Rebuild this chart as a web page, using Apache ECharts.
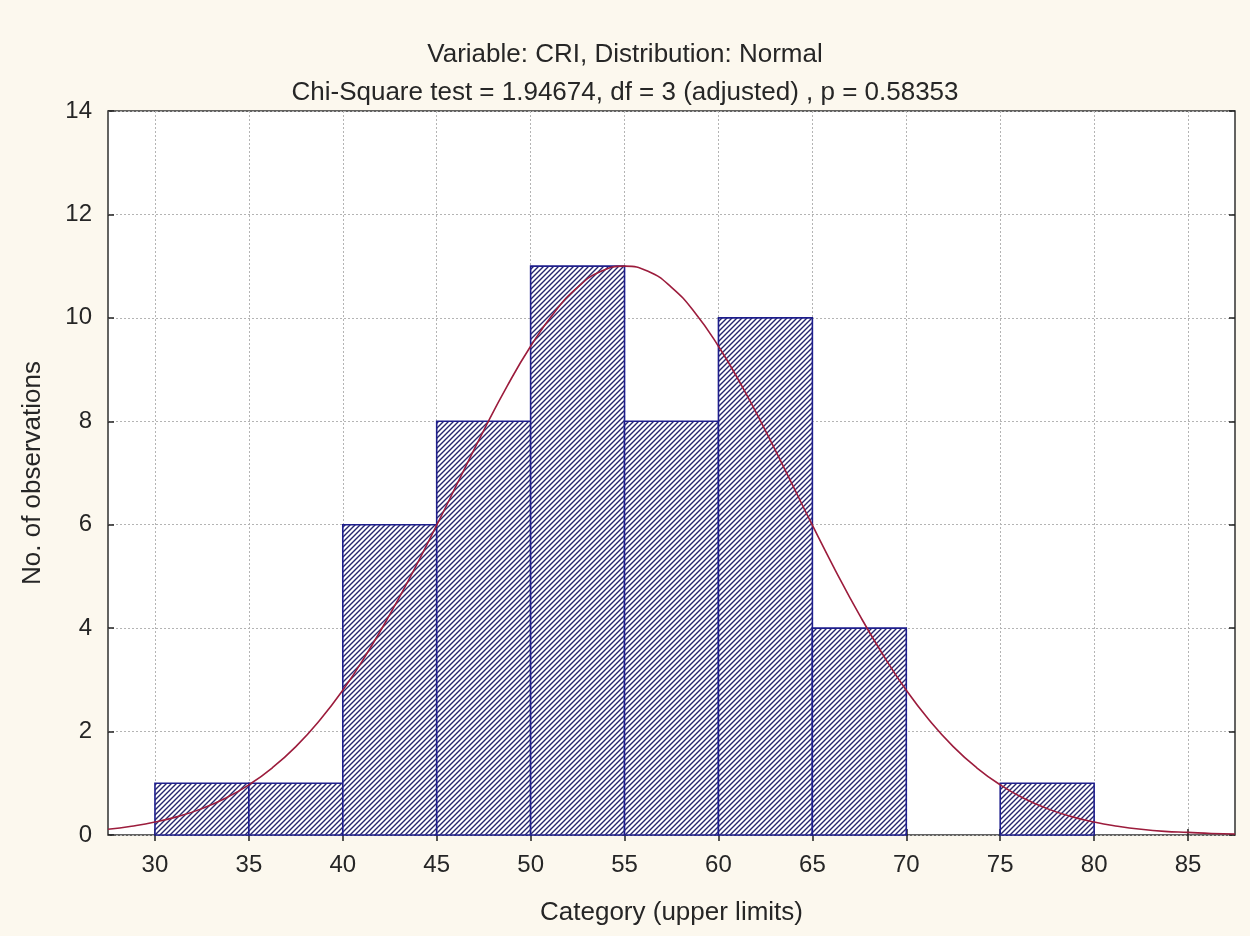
<!DOCTYPE html>
<html>
<head>
<meta charset="utf-8">
<script src="https://cdn.jsdelivr.net/npm/echarts@6/dist/echarts.min.js"></script>
<style>
html,body{margin:0;padding:0;background:#fcf8ee;}
#chart{width:1250px;height:936px;}
</style>
</head>
<body>
<div id="chart"></div>
<script>
// Histogram bins (lower limit, upper limit) and observed counts
const binLower = [30, 35, 40, 45, 50, 55, 60, 65, 70, 75];
const binUpper = [35, 40, 45, 50, 55, 60, 65, 70, 75, 80];
const counts   = [1, 1, 6, 8, 11, 8, 10, 4, 0, 1];

// Fitted normal curve
const curveX = [27.5, 28.75, 30, 31.25, 32.5, 33.75, 35, 36.25, 37.5, 38.75, 40, 41.25, 42.5, 43.75, 45, 46.25, 47.5, 48.75, 50, 51.25, 52.5, 53.75, 55, 56.25, 57.5, 58.75, 60, 61.25, 62.5, 63.75, 65, 66.25, 67.5, 68.75, 70, 71.25, 72.5, 73.75, 75, 76.25, 77.5, 78.75, 80, 81.25, 82.5, 83.75, 85, 86.25, 87.5];
const curveY = [0.11, 0.17, 0.25, 0.36, 0.51, 0.71, 0.97, 1.30, 1.71, 2.21, 2.80, 3.49, 4.26, 5.10, 5.99, 6.91, 7.82, 8.68, 9.45, 10.10, 10.59, 10.90, 11.0, 10.90, 10.59, 10.10, 9.45, 8.68, 7.82, 6.91, 5.99, 5.10, 4.26, 3.49, 2.80, 2.21, 1.71, 1.30, 0.97, 0.71, 0.51, 0.36, 0.25, 0.17, 0.11, 0.07, 0.05, 0.03, 0.02];

// Axis ticks
const xTicks = [30, 35, 40, 45, 50, 55, 60, 65, 70, 75, 80, 85];
const yTicks = [0, 2, 4, 6, 8, 10, 12, 14];

const titleLine1 = 'Variable: CRI, Distribution: Normal';
const titleLine2 = 'Chi-Square test = 1.94674, df = 3 (adjusted) , p = 0.58353';

function makeHatch() {
  const s = 5;
  const c = document.createElement('canvas');
  c.width = s; c.height = s;
  const g = c.getContext('2d');
  g.fillStyle = '#ffffff';
  g.fillRect(0, 0, s, s);
  g.strokeStyle = '#26266e';
  g.lineWidth = 1.4;
  g.beginPath();
  g.moveTo(-1, s + 1); g.lineTo(s + 1, -1);
  g.moveTo(-1, 1); g.lineTo(1, -1);
  g.moveTo(s - 1, s + 1); g.lineTo(s + 1, s - 1);
  g.stroke();
  return c;
}
const hatch = makeHatch();

const barData = binLower.map((lo, i) => [lo, binUpper[i], counts[i]]);
const curveData = curveX.map((x, i) => [x, curveY[i]]);

const FONT = '"Liberation Sans", Arial, sans-serif';
const TXT = '#262626';

const chart = echarts.init(document.getElementById('chart'), null, {renderer: 'canvas'});
chart.setOption({
  backgroundColor: '#fcf8ee',
  animation: false,
  title: [
    {text: titleLine1, left: 'center', top: 37, textStyle: {fontFamily: FONT, fontSize: 26, fontWeight: 'normal', color: TXT}},
    {text: titleLine2, left: 'center', top: 75, textStyle: {fontFamily: FONT, fontSize: 26, fontWeight: 'normal', color: TXT}}
  ],
  grid: {left: 108, right: 15, top: 111, bottom: 101, show: true, backgroundColor: '#ffffff', borderColor: '#303030', borderWidth: 1.5},
  xAxis: [
    {
      type: 'value', min: 27.5, max: 87.5, position: 'bottom',
      name: 'Category (upper limits)', nameLocation: 'middle', nameGap: 65,
      nameTextStyle: {fontFamily: FONT, fontSize: 26, color: TXT},
      axisLine: {show: false},
      axisTick: {show: true, inside: true, length: 6, customValues: xTicks, lineStyle: {color: '#202020', width: 1.5}},
      axisLabel: {customValues: xTicks, fontFamily: FONT, fontSize: 24, color: TXT, margin: 18},
      splitLine: {show: true, lineStyle: {color: '#b4b4b4', type: [2, 2], width: 1}}
    },
    {
      type: 'value', min: 27.5, max: 87.5, position: 'top',
      axisLine: {show: false},
      axisTick: {show: true, inside: true, length: 6, customValues: xTicks, lineStyle: {color: '#202020', width: 1.5}},
      axisLabel: {show: false},
      splitLine: {show: false}
    }
  ],
  yAxis: [
    {
      type: 'value', min: 0, max: 14, position: 'left',
      name: 'No. of observations', nameLocation: 'middle', nameGap: 62, nameRotate: 90,
      nameTextStyle: {fontFamily: FONT, fontSize: 26, color: TXT},
      axisLine: {show: false},
      axisTick: {show: true, inside: true, length: 6, customValues: yTicks, lineStyle: {color: '#202020', width: 1.5}},
      axisLabel: {customValues: yTicks, fontFamily: FONT, fontSize: 24, color: TXT, margin: 16},
      splitLine: {show: true, lineStyle: {color: '#b4b4b4', type: [2, 2], width: 1}}
    },
    {
      type: 'value', min: 0, max: 14, position: 'right',
      axisLine: {show: false},
      axisTick: {show: true, inside: true, length: 6, customValues: yTicks, lineStyle: {color: '#202020', width: 1.5}},
      axisLabel: {show: false},
      splitLine: {show: false}
    }
  ],
  series: [
    {
      type: 'custom',
      xAxisIndex: 0, yAxisIndex: 0,
      data: barData,
      encode: {x: [0, 1], y: 2},
      z: 2,
      renderItem: function (params, api) {
        const lo = api.value(0), hi = api.value(1), v = api.value(2);
        if (!v) return null;
        const p0 = api.coord([lo, v]);
        const p1 = api.coord([hi, 0]);
        return {
          type: 'rect',
          shape: {x: p0[0], y: p0[1], width: p1[0] - p0[0], height: p1[1] - p0[1]},
          style: {fill: {image: hatch, repeat: 'repeat'}, stroke: '#1e1e8c', lineWidth: 1.6}
        };
      }
    },
    {
      type: 'line',
      xAxisIndex: 0, yAxisIndex: 0,
      data: curveData,
      smooth: true,
      showSymbol: false,
      z: 5,
      lineStyle: {color: '#9c1c3c', width: 1.6},
      itemStyle: {color: '#9c1c3c'}
    }
  ]
});
</script>
</body>
</html>
